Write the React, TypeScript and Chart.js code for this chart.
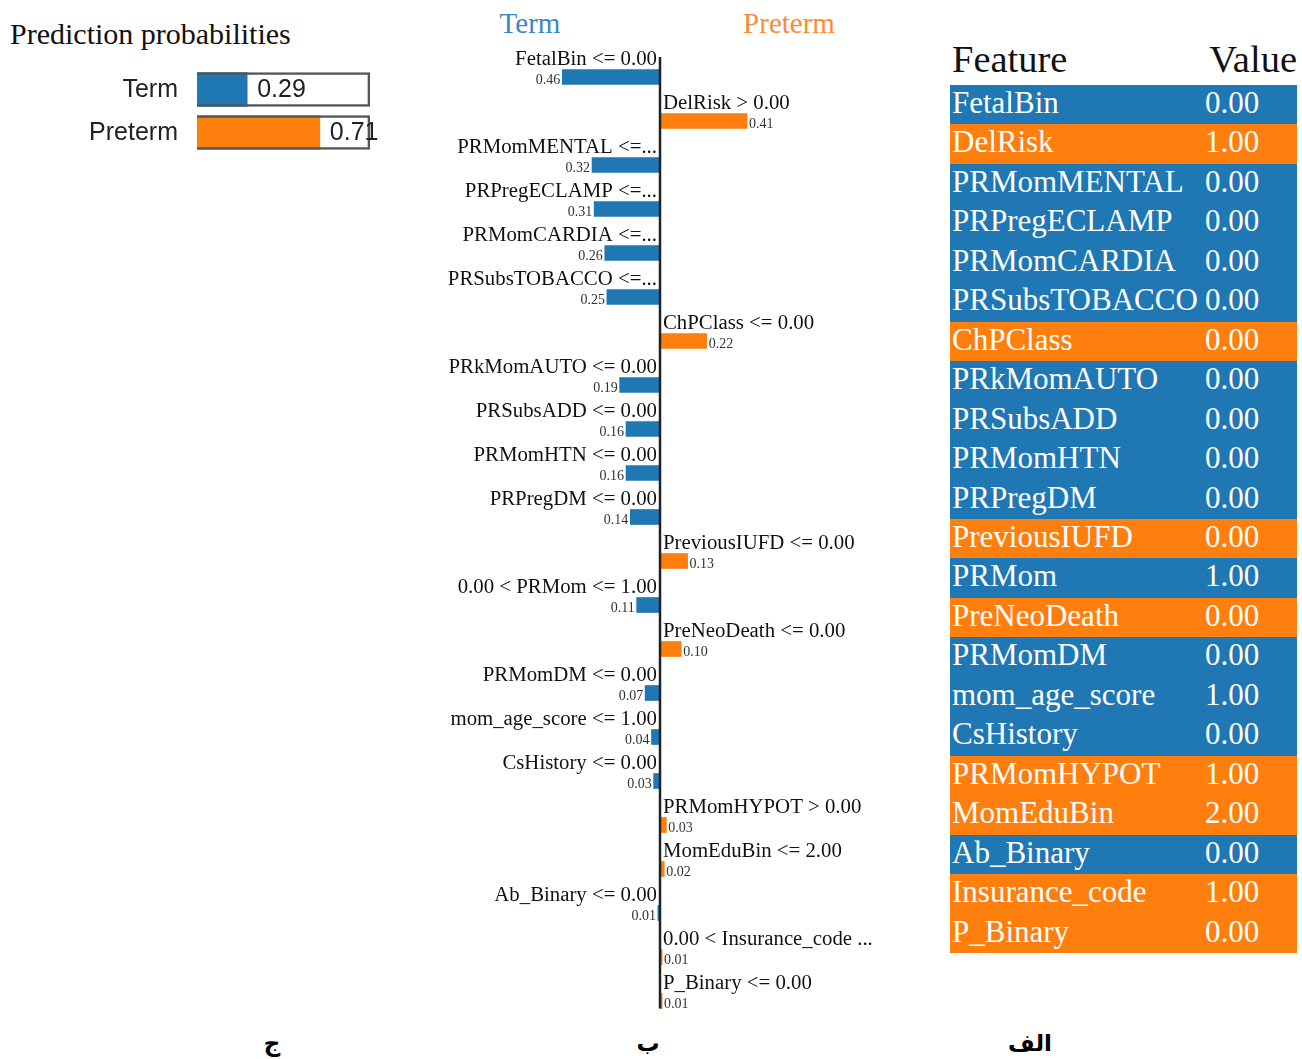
import React, { useEffect, useRef } from "react";
import { Chart, registerables } from "chart.js";

Chart.register(...registerables);

const BLUE = "#1f77b4";
const ORANGE = "#ff7f0e";
const SERIF = "'Liberation Serif', 'Times New Roman', serif";
const SANS = "'Liberation Sans', Arial, sans-serif";

// ---- Data ----
const probClasses = ["Term", "Preterm"];
const probValues = [0.29, 0.71];

const featureRules = [
  "FetalBin <= 0.00",
  "DelRisk > 0.00",
  "PRMomMENTAL <=...",
  "PRPregECLAMP <=...",
  "PRMomCARDIA <=...",
  "PRSubsTOBACCO <=...",
  "ChPClass <= 0.00",
  "PRkMomAUTO <= 0.00",
  "PRSubsADD <= 0.00",
  "PRMomHTN <= 0.00",
  "PRPregDM <= 0.00",
  "PreviousIUFD <= 0.00",
  "0.00 < PRMom <= 1.00",
  "PreNeoDeath <= 0.00",
  "PRMomDM <= 0.00",
  "mom_age_score <= 1.00",
  "CsHistory <= 0.00",
  "PRMomHYPOT > 0.00",
  "MomEduBin <= 2.00",
  "Ab_Binary <= 0.00",
  "0.00 < Insurance_code ...",
  "P_Binary <= 0.00",
];
const featureWeights = [
  -0.46, 0.41, -0.32, -0.31, -0.26, -0.25, 0.22, -0.19, -0.16, -0.16, -0.14,
  0.13, -0.11, 0.1, -0.07, -0.04, -0.03, 0.03, 0.02, -0.01, 0.01, 0.01,
];

const tableFeatures = [
  "FetalBin",
  "DelRisk",
  "PRMomMENTAL",
  "PRPregECLAMP",
  "PRMomCARDIA",
  "PRSubsTOBACCO",
  "ChPClass",
  "PRkMomAUTO",
  "PRSubsADD",
  "PRMomHTN",
  "PRPregDM",
  "PreviousIUFD",
  "PRMom",
  "PreNeoDeath",
  "PRMomDM",
  "mom_age_score",
  "CsHistory",
  "PRMomHYPOT",
  "MomEduBin",
  "Ab_Binary",
  "Insurance_code",
  "P_Binary",
];
const tableValues = [
  "0.00", "1.00", "0.00", "0.00", "0.00", "0.00", "0.00", "0.00", "0.00",
  "0.00", "0.00", "0.00", "1.00", "0.00", "0.00", "1.00", "0.00", "1.00",
  "2.00", "0.00", "1.00", "0.00",
];

const classHeaders = ["Term", "Preterm"];
const panelLabels = ["ج", "ب", "الف"];

// ---- Prediction probabilities chart ----
function ProbChart() {
  const ref = useRef<HTMLCanvasElement>(null);
  useEffect(() => {
    const labelPlugin = {
      id: "probLabels",
      afterDatasetsDraw(chart: any) {
        const ctx = chart.ctx;
        const meta = chart.getDatasetMeta(1);
        ctx.save();
        meta.data.forEach((bar: any, i: number) => {
          ctx.fillStyle = "#222";
          ctx.textBaseline = "middle";
          ctx.font = `25px ${SANS}`;
          ctx.textAlign = "right";
          ctx.fillText(probClasses[i], chart.chartArea.left - 19, bar.y + 1);
          ctx.font = `25px ${SANS}`;
          ctx.textAlign = "left";
          ctx.fillText(probValues[i].toFixed(2), bar.x + 10, bar.y + 1);
        });
        ctx.restore();
      },
    };
    const chart = new Chart(ref.current!, {
      type: "bar",
      data: {
        labels: probClasses,
        datasets: [
          {
            data: probClasses.map(() => 1),
            backgroundColor: "rgba(0,0,0,0)",
            borderColor: "#555",
            borderWidth: 2,
            barThickness: 34,
            grouped: false,
            order: 0,
          } as any,
          {
            data: probValues,
            backgroundColor: [BLUE, ORANGE],
            borderWidth: 0,
            barThickness: 34,
            grouped: false,
            order: 1,
          } as any,
        ],
      },
      options: {
        indexAxis: "y",
        animation: false,
        responsive: false,
        maintainAspectRatio: false,
        layout: { padding: { left: 137, right: 30, top: 0, bottom: 0 } },
        scales: {
          x: { display: false, min: 0, max: 1 },
          y: { display: false },
        },
        plugins: { legend: { display: false }, tooltip: { enabled: false } },
      },
      plugins: [labelPlugin],
    });
    return () => chart.destroy();
  }, []);
  return (
    <canvas
      ref={ref}
      width={340}
      height={86}
      style={{ position: "absolute", left: 60, top: 68, width: 340, height: 86 }}
    />
  );
}

// ---- Feature weight chart ----
function WeightChart() {
  const ref = useRef<HTMLCanvasElement>(null);
  useEffect(() => {
    const labelPlugin = {
      id: "weightLabels",
      afterDatasetsDraw(chart: any) {
        const ctx = chart.ctx;
        const meta = chart.getDatasetMeta(0);
        const x0 = chart.scales.x.getPixelForValue(0);
        ctx.save();
        meta.data.forEach((bar: any, i: number) => {
          const w = featureWeights[i];
          const neg = w < 0;
          ctx.textBaseline = "alphabetic";
          ctx.textAlign = neg ? "right" : "left";
          ctx.fillStyle = "#111";
          ctx.font = `20.8px ${SERIF}`;
          ctx.fillText(featureRules[i], neg ? x0 - 3 : x0 + 3, bar.y - 12);
          ctx.fillStyle = "#333";
          ctx.font = `14px ${SERIF}`;
          ctx.fillText(Math.abs(w).toFixed(2), neg ? bar.x - 2 : bar.x + 2, bar.y + 7);
        });
        const last = meta.data[meta.data.length - 1];
        ctx.strokeStyle = "#222";
        ctx.lineWidth = 2.5;
        ctx.beginPath();
        ctx.moveTo(x0, chart.chartArea.top + 2);
        ctx.lineTo(x0, last.y + 7.5);
        ctx.stroke();
        ctx.restore();
      },
    };
    const chart = new Chart(ref.current!, {
      type: "bar",
      data: {
        labels: featureRules,
        datasets: [
          {
            data: featureWeights,
            backgroundColor: featureWeights.map((w) => (w < 0 ? BLUE : ORANGE)),
            borderWidth: 0,
            barThickness: 15,
          },
        ],
      },
      options: {
        indexAxis: "y",
        animation: false,
        responsive: false,
        maintainAspectRatio: false,
        layout: { padding: { top: 20, bottom: 0, left: 0, right: 0 } },
        scales: {
          x: { display: false, min: -1.13, max: 1.13 },
          y: { display: false },
        },
        plugins: { legend: { display: false }, tooltip: { enabled: false } },
      },
      plugins: [labelPlugin],
    });
    return () => chart.destroy();
  }, []);
  return (
    <canvas
      ref={ref}
      width={480}
      height={988}
      style={{ position: "absolute", left: 420, top: 35, width: 480, height: 988 }}
    />
  );
}

// ---- Feature / value table ----
function FeatureTable() {
  const rowH = 868 / tableFeatures.length;
  return (
    <div style={{ position: "absolute", left: 950, top: 40, width: 347 }}>
      <div
        style={{
          position: "relative",
          height: 45,
          fontFamily: SERIF,
          fontSize: 38.5,
          lineHeight: "38px",
          color: "#111",
        }}
      >
        <span style={{ position: "absolute", left: 2, top: 0 }}>Feature</span>
        <span style={{ position: "absolute", right: 0, top: 0 }}>Value</span>
      </div>
      {tableFeatures.map((f, i) => (
        <div
          key={f}
          style={{
            position: "relative",
            height: rowH,
            background: featureWeights[i] < 0 ? BLUE : ORANGE,
            color: "#fff",
            fontFamily: SERIF,
            fontSize: 31,
            lineHeight: "36px",
            overflow: "hidden",
            whiteSpace: "nowrap",
          }}
        >
          <span style={{ position: "absolute", left: 2, top: 0 }}>{f}</span>
          <span style={{ position: "absolute", left: 255, top: 0 }}>{tableValues[i]}</span>
        </div>
      ))}
    </div>
  );
}

export default function App() {
  const headerCenters = [530, 789];
  const headerColors = ["#3d86c6", "#fd8b36"];
  const labelCenters = [272, 648, 1030];
  return (
    <div
      style={{
        position: "absolute",
        left: 0,
        top: 0,
        width: 1302,
        height: 1059,
        background: "#fff",
        overflow: "hidden",
      }}
    >
      <div
        style={{
          position: "absolute",
          left: 10,
          top: 19,
          fontFamily: SERIF,
          fontSize: 30,
          lineHeight: "30px",
          color: "#111",
          whiteSpace: "nowrap",
        }}
      >
        Prediction probabilities
      </div>
      <ProbChart />
      {classHeaders.map((h, i) => (
        <div
          key={h}
          style={{
            position: "absolute",
            left: headerCenters[i],
            top: 9,
            transform: "translateX(-50%)",
            fontFamily: SERIF,
            fontSize: 29,
            lineHeight: "29px",
            color: headerColors[i],
            whiteSpace: "nowrap",
          }}
        >
          {h}
        </div>
      ))}
      <WeightChart />
      <FeatureTable />
      {panelLabels.map((l, i) => (
        <div
          key={l}
          dir="rtl"
          style={{
            position: "absolute",
            left: labelCenters[i],
            top: 1030,
            transform: "translateX(-50%)",
            fontFamily: "'DejaVu Sans', sans-serif",
            fontWeight: "bold",
            fontSize: 23,
            lineHeight: "26px",
            color: "#000",
            whiteSpace: "nowrap",
          }}
        >
          {l}
        </div>
      ))}
    </div>
  );
}
